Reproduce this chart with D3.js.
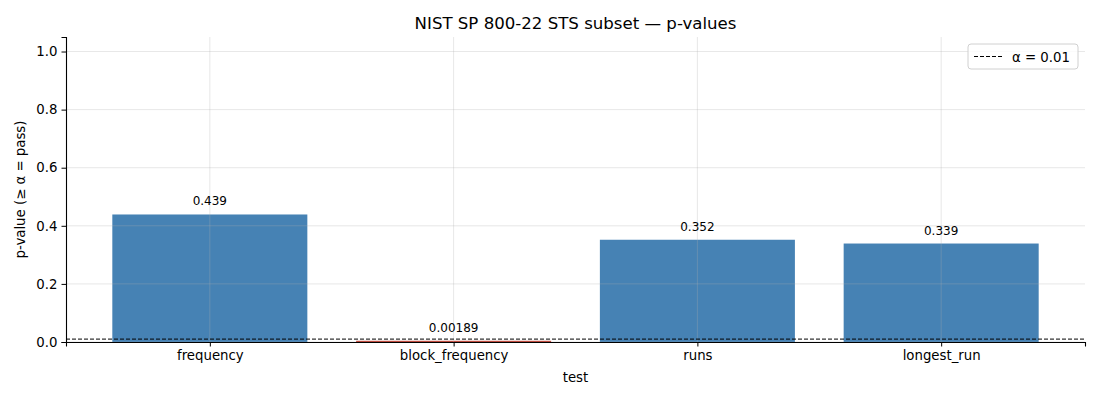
<!DOCTYPE html>
<html>
<head>
<meta charset="utf-8">
<script src="https://cdn.jsdelivr.net/npm/d3@7"></script>
<style>
  body { margin: 0; background: #fff; }
  svg text { font-family: "DejaVu Sans", sans-serif; }
  .axis path, .axis line { stroke: #000; }
  .axis text { fill: #000; font-size: 13.3px; font-family: "DejaVu Sans", sans-serif; }
</style>
</head>
<body>
<svg id="chart"></svg>
<script>
// data
const tests = ["frequency", "block_frequency", "runs", "longest_run"];
const pValues = [0.439, 0.00189, 0.352, 0.339];
const valueLabels = ["0.439", "0.00189", "0.352", "0.339"];
const alpha = 0.01;
const yTicks = [0.0, 0.2, 0.4, 0.6, 0.8, 1.0];

const width = 1100, height = 400;
const margin = { top: 37, right: 15, bottom: 58, left: 66 };
const innerW = width - margin.left - margin.right;
const innerH = height - margin.top - margin.bottom;

const svg = d3.select("#chart")
    .attr("width", width)
    .attr("height", height);

const g = svg.append("g")
    .attr("transform", `translate(${margin.left},${margin.top})`);

// categories at integer positions, bars 0.8 wide, 5% margins like matplotlib
const barW = 0.8;
const x = d3.scaleLinear()
    .domain([-0.59, tests.length - 1 + 0.59])
    .range([0, innerW]);

const y = d3.scaleLinear()
    .domain([0, 1.05])
    .range([innerH, 0]);

// bars (red when below alpha)
g.selectAll(".bar")
    .data(pValues)
    .join("rect")
    .attr("class", "bar")
    .attr("x", (d, i) => x(i - barW / 2))
    .attr("width", (d, i) => x(i + barW / 2) - x(i - barW / 2))
    .attr("y", d => Math.min(y(d), y(0) - 1.2))
    .attr("height", d => Math.max(y(0) - y(d), 1.2))
    .attr("fill", d => d >= alpha ? "#4682b4" : "#c0392b");

// grid on top of the bars
const grid = g.append("g").attr("class", "grid");
grid.selectAll(".hgrid")
    .data(yTicks)
    .join("line")
    .attr("x1", 0).attr("x2", innerW)
    .attr("y1", d => y(d)).attr("y2", d => y(d))
    .attr("stroke", "#b0b0b0").attr("stroke-opacity", 0.3);
grid.selectAll(".vgrid")
    .data(tests)
    .join("line")
    .attr("x1", (d, i) => x(i)).attr("x2", (d, i) => x(i))
    .attr("y1", 0).attr("y2", innerH)
    .attr("stroke", "#b0b0b0").attr("stroke-opacity", 0.3);

// alpha threshold
g.append("line")
    .attr("x1", 0).attr("x2", innerW)
    .attr("y1", y(alpha)).attr("y2", y(alpha))
    .attr("stroke", "#000")
    .attr("stroke-width", 1)
    .attr("stroke-dasharray", "4,2");

// value labels
g.selectAll(".vlabel")
    .data(pValues)
    .join("text")
    .attr("class", "vlabel")
    .attr("x", (d, i) => x(i))
    .attr("y", d => y(d) - 9)
    .attr("text-anchor", "middle")
    .attr("font-size", "12px")
    .text((d, i) => valueLabels[i]);

// axes
const xAxis = d3.axisBottom(x)
    .tickValues(d3.range(tests.length))
    .tickFormat(i => tests[i])
    .tickSizeOuter(0)
    .tickSize(4.5)
    .tickPadding(4);
g.append("g")
    .attr("class", "axis x-axis")
    .attr("transform", `translate(0,${innerH})`)
    .call(xAxis);

const yAxis = d3.axisLeft(y)
    .tickValues(yTicks)
    .tickFormat(d3.format(".1f"))
    .tickSizeOuter(0)
    .tickSize(4.5)
    .tickPadding(4);
g.append("g")
    .attr("class", "axis y-axis")
    .call(yAxis);

g.selectAll(".axis .domain").attr("stroke-width", 1.1);

// axis titles
svg.append("text")
    .attr("x", margin.left + innerW / 2)
    .attr("y", 382)
    .attr("text-anchor", "middle")
    .attr("font-size", "13.3px")
    .text("test");

svg.append("text")
    .attr("transform", `translate(25,${margin.top + innerH / 2}) rotate(-90)`)
    .attr("text-anchor", "middle")
    .attr("font-size", "13.3px")
    .text("p-value (≥ α = pass)");

// title
svg.append("text")
    .attr("x", margin.left + innerW / 2)
    .attr("y", 29)
    .attr("text-anchor", "middle")
    .attr("font-size", "16.6px")
    .text("NIST SP 800-22 STS subset — p-values");

// legend
const legend = svg.append("g")
    .attr("transform", `translate(968,44)`);
legend.append("rect")
    .attr("width", 110).attr("height", 25)
    .attr("rx", 3)
    .attr("fill", "#fff").attr("fill-opacity", 0.8)
    .attr("stroke", "#d0d0d0");
legend.append("line")
    .attr("x1", 6).attr("x2", 34)
    .attr("y1", 12.5).attr("y2", 12.5)
    .attr("stroke", "#000")
    .attr("stroke-dasharray", "4,2");
legend.append("text")
    .attr("x", 44).attr("y", 17.5)
    .attr("font-size", "13.3px")
    .text("α = 0.01");
</script>
</body>
</html>
